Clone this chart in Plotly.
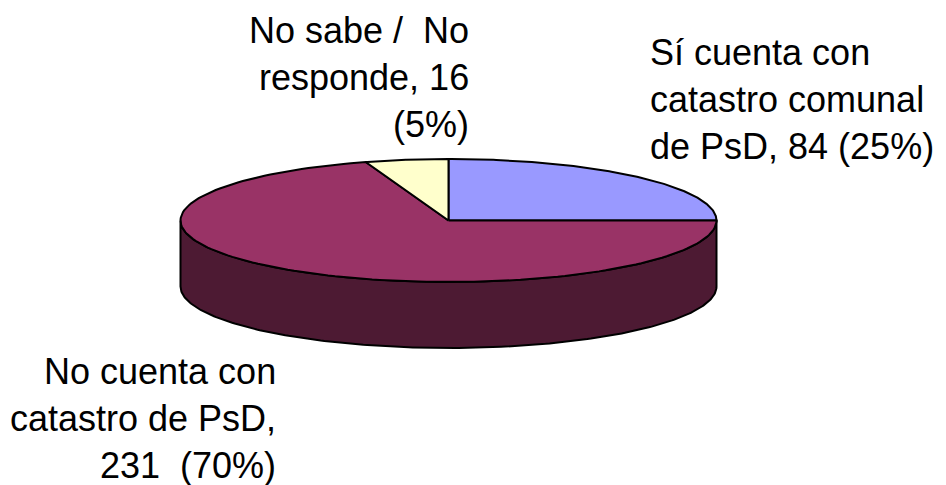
import numpy as np
import plotly.graph_objects as go

categories = ["Sí cuenta con catastro comunal de PsD", "No cuenta con catastro de PsD", "No sabe / No responde"]
counts = [84, 231, 16]
percents = [25, 70, 5]
colors = ["#9999FF", "#993366", "#FFFFCC"]
side_color = "#4D1A33"
label_lines = [
    ["Sí cuenta con", "catastro comunal", "de PsD, 84 (25%)"],
    ["No cuenta con", "catastro de PsD,", "231\u00a0 (70%)"],
    ["No sabe /\u00a0 No", "responde, 16", "(5%)"],
]
label_anchor = [("left", 648, 52), ("right", 278, 371), ("right", 471, 30)]
LINE_H = 47.3
CX, CY, RX, RY, DEPTH = 448.5, 220.5, 268, 61.5, 66
PAGE_MARGIN = 8  # the page's body margin shifts the figure

fractions = np.array(percents) / sum(percents)
edges = np.concatenate([[0], np.cumsum(fractions)]) * 2 * np.pi

def px(t):
    return CX + RX * np.sin(t)

def py(t):
    return CY - RY * np.cos(t)

fig = go.Figure()
LINE = dict(color="black", width=2)

front = np.linspace(np.pi / 2, 3 * np.pi / 2, 200)
xs = np.concatenate([px(front), px(front[::-1])])
ys = np.concatenate([py(front), py(front[::-1]) + DEPTH])
fig.add_trace(go.Scatter(x=np.append(xs, xs[0]), y=np.append(ys, ys[0]), mode="lines",
                         fill="toself", fillcolor=side_color, line=LINE, hoverinfo="skip"))

for i, name in enumerate(categories):
    t = np.linspace(edges[i], edges[i + 1], 150)
    x = np.concatenate([[CX], px(t), [CX]])
    y = np.concatenate([[CY], py(t), [CY]])
    fig.add_trace(go.Scatter(x=x, y=y, mode="lines", fill="toself", fillcolor=colors[i],
                             line=LINE, name=f"{name}: {counts[i]}", hoverinfo="name"))

anns = []
for lines, (align, ax, ay) in zip(label_lines, label_anchor):
    for j, line in enumerate(lines):
        anns.append(dict(x=ax, y=ay + j * LINE_H, text=line, showarrow=False, xref="x", yref="y",
                         xanchor=align, yanchor="middle",
                         font=dict(family="Liberation Sans", size=36, color="black")))

fig.update_layout(
    width=946, height=485, margin=dict(l=0, r=0, t=0, b=0), showlegend=False,
    paper_bgcolor="white", plot_bgcolor="white", annotations=anns,
    xaxis=dict(range=[PAGE_MARGIN, 946 + PAGE_MARGIN], visible=False, fixedrange=True),
    yaxis=dict(range=[485 + PAGE_MARGIN, PAGE_MARGIN], visible=False, fixedrange=True),
)
fig.write_html("out.html")
